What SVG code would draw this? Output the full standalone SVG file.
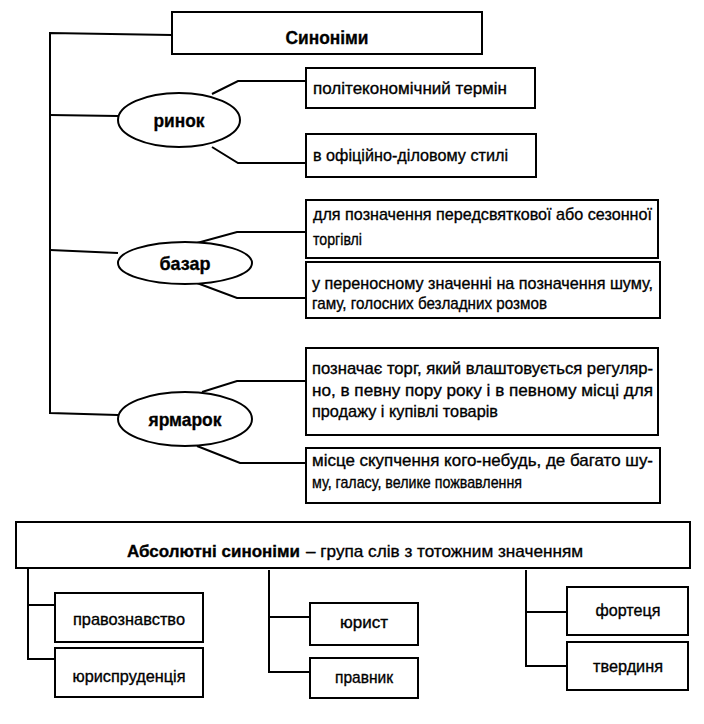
<svg xmlns="http://www.w3.org/2000/svg" width="704" height="724" viewBox="0 0 704 724">
<style>
.box{fill:#fff;stroke:#000;stroke-width:2}
.ell{fill:#fff;stroke:#000;stroke-width:2}
.ln{fill:none;stroke:#000;stroke-width:2}
text{font-family:"Liberation Sans Narrow","Liberation Sans",Arial,sans-serif;fill:#000;stroke:#000;stroke-width:0.35}
.t{font-size:17px}
.b{font-size:19px;font-weight:bold}
.s{font-size:17px}
</style>
<rect width="704" height="724" fill="#fff"/>
<g id="connectors">
<polyline class="ln" points="172,35 50,33 50,413 118,415"/>
<line class="ln" x1="50" y1="115" x2="118" y2="116"/>
<line class="ln" x1="50" y1="250" x2="118" y2="253"/>
<polyline class="ln" points="212,94 238,81 306,81"/>
<polyline class="ln" points="212,147 238,163 306,163"/>
<polyline class="ln" points="197,243 237,232 306,232"/>
<polyline class="ln" points="197,283 237,298 306,298"/>
<polyline class="ln" points="202,392 237,381 306,381"/>
<polyline class="ln" points="197,446 240,463 306,463"/>
<polyline class="ln" points="28,568 28,659 55,659"/>
<line class="ln" x1="28" y1="605" x2="55" y2="605"/>
<polyline class="ln" points="269,570 269,672 310,672"/>
<line class="ln" x1="269" y1="617" x2="310" y2="617"/>
<polyline class="ln" points="526,570 526,666 567,666"/>
<line class="ln" x1="526" y1="612" x2="567" y2="612"/>
</g>
<g id="n-synonimy">
<rect class="box" x="172" y="12" width="310" height="42"/>
<text class="b" x="327" y="44" text-anchor="middle" textLength="83" lengthAdjust="spacingAndGlyphs">Синоніми</text>
</g>
<g id="n-rynok">
<ellipse class="ell" cx="179" cy="120" rx="61" ry="27"/>
<text class="b" x="179" y="127" text-anchor="middle" textLength="51" lengthAdjust="spacingAndGlyphs">ринок</text>
</g>
<g id="n-r1">
<rect class="box" x="306" y="68" width="229" height="40"/>
<text class="t" x="313" y="94" textLength="194" lengthAdjust="spacingAndGlyphs">політекономічний термін</text>
</g>
<g id="n-r2">
<rect class="box" x="306" y="134" width="230" height="43"/>
<text class="t" x="313" y="161" textLength="195" lengthAdjust="spacingAndGlyphs">в офіційно-діловому стилі</text>
</g>
<g id="n-bazar">
<ellipse class="ell" cx="185" cy="263" rx="67" ry="21"/>
<text class="b" x="185" y="270" text-anchor="middle" textLength="51" lengthAdjust="spacingAndGlyphs">базар</text>
</g>
<g id="n-b1">
<rect class="box" x="306" y="200" width="352" height="58"/>
<text class="t" x="313" y="220" textLength="339" lengthAdjust="spacingAndGlyphs">для позначення передсвяткової або сезонної</text>
<text class="t" x="313" y="245" textLength="49" lengthAdjust="spacingAndGlyphs">торгівлі</text>
</g>
<g id="n-b2">
<rect class="box" x="306" y="262" width="354" height="56"/>
<text class="t" x="312" y="289" textLength="341" lengthAdjust="spacingAndGlyphs">у переносному значенні на позначення шуму,</text>
<text class="t" x="312" y="309" textLength="235" lengthAdjust="spacingAndGlyphs">гаму, голосних безладних розмов</text>
</g>
<g id="n-yarmarok">
<ellipse class="ell" cx="185" cy="419" rx="67" ry="27"/>
<text class="b" x="185" y="426" text-anchor="middle" textLength="73" lengthAdjust="spacingAndGlyphs">ярмарок</text>
</g>
<g id="n-y1">
<rect class="box" x="306" y="348" width="352" height="87"/>
<text class="t" x="312" y="374" textLength="341" lengthAdjust="spacingAndGlyphs">позначає торг, який влаштовується регуляр-</text>
<text class="t" x="312" y="396" textLength="341" lengthAdjust="spacingAndGlyphs">но, в певну пору року і в певному місці для</text>
<text class="t" x="312" y="417" textLength="186" lengthAdjust="spacingAndGlyphs">продажу і купівлі товарів</text>
</g>
<g id="n-y2">
<rect class="box" x="306" y="448" width="354" height="55"/>
<text class="t" x="312" y="466" textLength="341" lengthAdjust="spacingAndGlyphs">місце скупчення кого-небудь, де багато шу-</text>
<text class="t" x="312" y="488" textLength="210" lengthAdjust="spacingAndGlyphs">му, галасу, велике пожвавлення</text>
</g>
<g id="n-absolute">
<rect class="box" x="16" y="522" width="674" height="46"/>
<text class="s" x="127" y="557"><tspan font-weight="bold" textLength="173" lengthAdjust="spacingAndGlyphs">Абсолютні синоніми</tspan><tspan x="306" textLength="277" lengthAdjust="spacingAndGlyphs">– група слів з тотожним значенням</tspan></text>
</g>
<g id="n-pravoznavstvo">
<rect class="box" x="55" y="593" width="148" height="49"/>
<text class="s" x="129" y="625" text-anchor="middle" textLength="112" lengthAdjust="spacingAndGlyphs">правознавство</text>
</g>
<g id="n-yurysprudentsiia">
<rect class="box" x="55" y="648" width="148" height="49"/>
<text class="s" x="129" y="682" text-anchor="middle" textLength="113" lengthAdjust="spacingAndGlyphs">юриспруденція</text>
</g>
<g id="n-yuryst">
<rect class="box" x="310" y="603" width="108" height="42"/>
<text class="s" x="364" y="628" text-anchor="middle" textLength="48" lengthAdjust="spacingAndGlyphs">юрист</text>
</g>
<g id="n-pravnyk">
<rect class="box" x="310" y="658" width="108" height="40"/>
<text class="s" x="364" y="683" text-anchor="middle" textLength="58" lengthAdjust="spacingAndGlyphs">правник</text>
</g>
<g id="n-fortetsia">
<rect class="box" x="567" y="587" width="121" height="48"/>
<text class="s" x="628" y="616" text-anchor="middle" textLength="65" lengthAdjust="spacingAndGlyphs">фортеця</text>
</g>
<g id="n-tverdynia">
<rect class="box" x="567" y="642" width="121" height="48"/>
<text class="s" x="628" y="672" text-anchor="middle" textLength="70" lengthAdjust="spacingAndGlyphs">твердиня</text>
</g>
</svg>
